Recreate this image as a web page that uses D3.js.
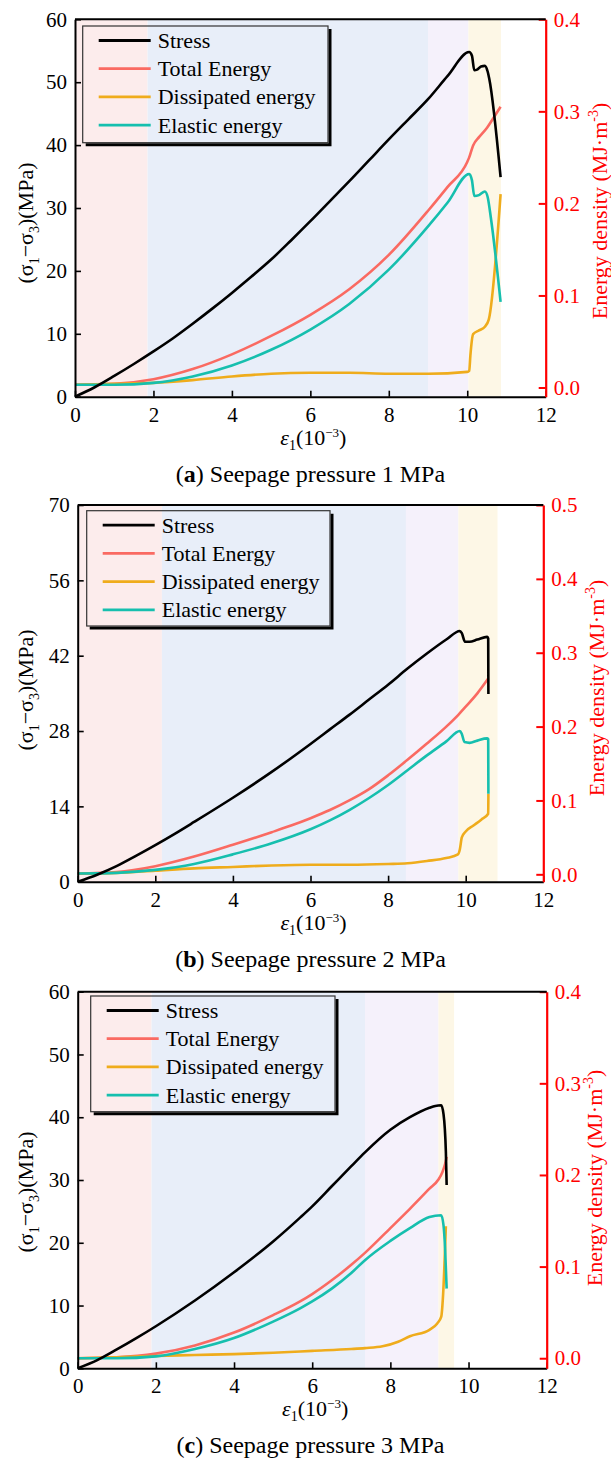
<!DOCTYPE html>
<html>
<head>
<meta charset="utf-8">
<script src="https://cdn.jsdelivr.net/npm/d3@7"></script>
<style>
  body { margin: 0; background: #fff; }
  svg text { font-family: "Liberation Serif", "Times New Roman", serif; }
</style>
</head>
<body>
<svg id="fig" width="611" height="1463"></svg>
<script>
// ---- shared axis ticks and series labels ----
const strainTicks = [0, 2, 4, 6, 8, 10, 12];
const stressTicks60 = [0, 10, 20, 30, 40, 50, 60];
const stressTicks70 = [0, 14, 28, 42, 56, 70];
const energyTicks04 = [0.0, 0.1, 0.2, 0.3, 0.4];
const energyTicks05 = [0.0, 0.1, 0.2, 0.3, 0.4, 0.5];
const seriesNames = ["Stress", "Total Energy", "Dissipated energy", "Elastic energy"];
const seriesColors = ["#000000", "#fa6a62", "#efac1c", "#16bfae"];
const stageColors = ["#fcecec", "#e8eef9", "#f5f1fb", "#fdf7e6"];

// ---- (a) seepage pressure 1 MPa: strain (10^-3), stress (MPa), energy (MJ/m^3) ----
const stagesA = [0, 1.85, 9.0, 10.03, 10.86];
const stressA = [[0,0],[0.5,1.5],[1,3.3],[1.5,5.2],[2,7.2],[2.5,9.3],[3,11.6],[3.5,14.0],[4,16.5],[4.5,19.1],[5,21.8],[5.5,24.8],[6,27.9],[6.5,31.1],[7,34.3],[7.5,37.6],[8,40.9],[8.5,44.1],[9,47.3],[9.5,51.0],[10.05,54.8],[10.12,54.2],[10.18,51.9],[10.25,52.0],[10.35,52.5],[10.45,52.6],[10.52,51.7],[10.56,50.6],[10.85,34.9]];
const totalA = [[0,0.003],[1,0.004],[2,0.009],[3,0.020],[4,0.036],[5,0.056],[6,0.079],[7,0.107],[8,0.144],[9,0.192],[9.5,0.218],[10.0,0.245],[10.05,0.250],[10.15,0.263],[10.3,0.272],[10.5,0.282],[10.7,0.295],[10.85,0.305]];
const dissipatedA = [[0,0.003],[1,0.004],[2,0.005],[3,0.008],[4,0.012],[5,0.015],[6,0.016],[7,0.016],[8,0.015],[9,0.015],[10.0,0.017],[10.05,0.018],[10.08,0.035],[10.15,0.058],[10.3,0.062],[10.45,0.066],[10.55,0.074],[10.85,0.210]];
const elasticA = [[0,0.003],[1,0.003],[2,0.005],[3,0.012],[4,0.024],[5,0.041],[6,0.063],[7,0.091],[8,0.128],[9,0.175],[9.5,0.201],[10.05,0.232],[10.12,0.225],[10.18,0.208],[10.3,0.209],[10.45,0.213],[10.52,0.207],[10.6,0.185],[10.85,0.093]];

// ---- (b) seepage pressure 2 MPa ----
const stagesB = [0, 2.17, 8.46, 9.81, 10.82];
const stressB = [[0,0],[0.5,1.3],[1,2.9],[1.5,4.8],[2,6.8],[2.5,8.9],[3,11.1],[4,15.6],[5,20.4],[6,25.6],[6.5,28.3],[7,31.0],[7.5,33.8],[8,36.6],[8.5,39.6],[9,42.4],[9.5,45.0],[9.85,46.6],[9.9,46.2],[9.98,44.6],[10.1,44.6],[10.3,45.0],[10.55,45.5],[10.58,45.2],[10.585,34.9]];
const totalB = [[0,0.001],[1,0.003],[2,0.011],[3,0.024],[4,0.040],[5,0.057],[5.5,0.066],[6,0.076],[6.5,0.087],[7,0.100],[7.5,0.115],[8,0.134],[8.5,0.155],[9,0.177],[9.5,0.200],[9.81,0.216],[10.0,0.227],[10.3,0.245],[10.58,0.265]];
const dissipatedB = [[0,0.001],[1,0.002],[2,0.005],[3,0.008],[4,0.010],[5,0.012],[6,0.013],[7,0.013],[8,0.014],[8.5,0.015],[9,0.018],[9.5,0.022],[9.8,0.027],[9.85,0.034],[9.9,0.050],[10.0,0.058],[10.2,0.066],[10.4,0.074],[10.58,0.082],[10.585,0.109]];
const elasticB = [[0,0.001],[1,0.002],[2,0.006],[3,0.014],[4,0.027],[5,0.042],[6,0.061],[6.5,0.073],[7,0.087],[7.5,0.103],[8,0.121],[8.5,0.141],[9,0.161],[9.5,0.180],[9.85,0.194],[9.9,0.190],[9.97,0.179],[10.1,0.178],[10.3,0.181],[10.55,0.184],[10.58,0.183],[10.585,0.109]];

// ---- (c) seepage pressure 3 MPa ----
const stagesC = [0, 1.89, 7.35, 9.23, 9.63];
const stressC = [[0,0],[0.5,1.3],[1,3.0],[1.5,4.8],[2,6.7],[3,10.8],[4,15.3],[5,20.2],[5.69,24.0],[6,25.8],[6.5,29.0],[7,32.2],[7.35,34.4],[8,38.0],[8.5,40.0],[9.0,41.5],[9.15,41.8],[9.3,41.9],[9.36,40.5],[9.42,34.5],[9.44,29.2]];
const totalC = [[0,0.000],[1,0.001],[2,0.005],[3,0.014],[4,0.028],[5,0.047],[5.69,0.062],[6,0.070],[6.5,0.085],[7,0.102],[7.35,0.115],[8,0.142],[8.5,0.163],[9,0.185],[9.23,0.195],[9.33,0.203],[9.4,0.212],[9.44,0.220]];
const dissipatedC = [[0,0.000],[1,0.001],[2,0.0025],[3,0.0035],[4,0.0045],[5,0.006],[6,0.008],[7,0.010],[7.35,0.011],[7.8,0.013],[8.2,0.018],[8.5,0.024],[9.0,0.031],[9.2,0.038],[9.3,0.045],[9.35,0.070],[9.4,0.120],[9.42,0.144]];
const elasticC = [[0,0.000],[1,0.000],[2,0.002],[3,0.010],[4,0.022],[5,0.040],[5.69,0.0545],[6,0.062],[6.5,0.076],[7,0.093],[7.35,0.107],[8,0.128],[8.5,0.142],[9.0,0.154],[9.3,0.156],[9.36,0.145],[9.4,0.120],[9.44,0.076]];

const panels = [
  { left: 75, right: 545.7, top: 19.3, bottom: 396.7,
    stressMax: 60, stressTicks: stressTicks60, energyDomain: [-0.01, 0.4], energyTicks: energyTicks04,
    stages: stagesA, series: [stressA, totalA, dissipatedA, elasticA],
    legend: { dx: 7.7, dy: 6.7, w: 245.3, h: 116.7 },
    yTitleCy: 223, eTitleX: 600, eTitleCy: 211,
    letter: "a", caption: " Seepage pressure 1 MPa" },
  { left: 77.7, right: 543.3, top: 505, bottom: 881.7,
    stressMax: 70, stressTicks: stressTicks70, energyDomain: [-0.01, 0.5], energyTicks: energyTicks05,
    stages: stagesB, series: [stressB, totalB, dissipatedB, elasticB],
    legend: { dx: 9, dy: 5.7, w: 243.3, h: 115.3 },
    yTitleCy: 690, eTitleX: 597, eTitleCy: 688,
    letter: "b", caption: " Seepage pressure 2 MPa" },
  { left: 77.7, right: 546.7, top: 991.7, bottom: 1368.3,
    stressMax: 60, stressTicks: stressTicks60, energyDomain: [-0.011, 0.4], energyTicks: energyTicks04,
    stages: stagesC, series: [stressC, totalC, dissipatedC, elasticC],
    legend: { dx: 13, dy: 4.3, w: 244.3, h: 115.7 },
    yTitleCy: 1192, eTitleX: 595, eTitleCy: 1178,
    letter: "c", caption: " Seepage pressure 3 MPa" }
];

const svg = d3.select("#fig");

function drawPanel(p) {
  const g = svg.append("g");
  const x = d3.scaleLinear().domain([0, 12]).range([p.left, p.right]);
  const yS = d3.scaleLinear().domain([0, p.stressMax]).range([p.bottom, p.top]);
  const yE = d3.scaleLinear().domain(p.energyDomain).range([p.bottom, p.top]);

  // deformation stage shading
  g.append("g").selectAll("rect")
    .data(d3.pairs(p.stages))
    .join("rect")
    .attr("x", d => x(d[0]))
    .attr("width", d => x(d[1]) - x(d[0]))
    .attr("y", p.top)
    .attr("height", p.bottom - p.top)
    .attr("fill", (d, i) => stageColors[i]);

  // curves: energies on the right scale, stress on the left
  const lineE = d3.line().x(d => x(d[0])).y(d => yE(d[1])).curve(d3.curveMonotoneX);
  const lineS = d3.line().x(d => x(d[0])).y(d => yS(d[1])).curve(d3.curveMonotoneX);
  [1, 2, 3].forEach(i => {
    g.append("path").attr("d", lineE(p.series[i]))
      .attr("fill", "none").attr("stroke", seriesColors[i])
      .attr("stroke-width", 2.6).attr("stroke-linejoin", "round");
  });
  g.append("path").attr("d", lineS(p.series[0]))
    .attr("fill", "none").attr("stroke", seriesColors[0])
    .attr("stroke-width", 2.6).attr("stroke-linejoin", "round");

  // axes
  const axB = g.append("g").attr("transform", `translate(0,${p.bottom})`)
    .call(d3.axisBottom(x).tickValues(strainTicks).tickSize(-6).tickSizeOuter(0).tickPadding(10));
  const axL = g.append("g").attr("transform", `translate(${p.left},0)`)
    .call(d3.axisLeft(yS).tickValues(p.stressTicks).tickSize(-6).tickSizeOuter(0).tickPadding(8));
  const axR = g.append("g").attr("transform", `translate(${p.right},0)`)
    .call(d3.axisRight(yE).tickValues(p.energyTicks).tickFormat(d3.format(".1f"))
      .tickSize(-7).tickSizeOuter(0).tickPadding(8));
  g.append("line").attr("x1", p.left).attr("x2", p.right).attr("y1", p.top).attr("y2", p.top)
    .attr("stroke", "#000").attr("stroke-width", 2);

  [axB, axL].forEach(a => {
    a.select(".domain").attr("stroke", "#000").attr("stroke-width", 2);
    a.selectAll(".tick line").attr("stroke", "#000").attr("stroke-width", 1.6);
    a.selectAll(".tick text").attr("fill", "#000").attr("font-size", 21)
      .attr("font-family", "Liberation Serif, serif");
  });
  axR.select(".domain").attr("stroke", "#f00").attr("stroke-width", 2.2);
  axR.selectAll(".tick line").attr("stroke", "#f00").attr("stroke-width", 2);
  axR.selectAll(".tick text").attr("fill", "#f00").attr("font-size", 21)
    .attr("font-family", "Liberation Serif, serif");

  // axis titles
  const yT = g.append("text").attr("font-size", 22).attr("fill", "#000")
    .attr("text-anchor", "middle")
    .attr("transform", `translate(33,${p.yTitleCy}) rotate(-90)`);
  yT.append("tspan").text("(σ");
  yT.append("tspan").attr("dy", 6).attr("font-size", 14).text("1");
  yT.append("tspan").attr("dy", -6).text("−σ");
  yT.append("tspan").attr("dy", 6).attr("font-size", 14).text("3");
  yT.append("tspan").attr("dy", -6).text(")(MPa)");

  const eT = g.append("text").attr("font-size", 22).attr("fill", "#f00")
    .attr("text-anchor", "middle")
    .attr("transform", `translate(${p.eTitleX + 7},${p.eTitleCy}) rotate(-90)`);
  eT.append("tspan").text("Energy density (MJ·m");
  eT.append("tspan").attr("dy", -9).attr("font-size", 14).text("-3");
  eT.append("tspan").attr("dy", 9).text(")");

  const xT = g.append("text").attr("font-size", 22).attr("fill", "#000")
    .attr("text-anchor", "middle")
    .attr("x", (p.left + p.right) / 2 + 3).attr("y", p.bottom + 48);
  xT.append("tspan").attr("font-style", "italic").text("ε");
  xT.append("tspan").attr("dy", 5).attr("font-size", 14).text("1");
  xT.append("tspan").attr("dy", -5).text("(10");
  xT.append("tspan").attr("dy", -8).attr("font-size", 13).text("−3");
  xT.append("tspan").attr("dy", 8).text(")");

  // legend
  const lx = p.left + p.legend.dx, ly = p.top + p.legend.dy;
  const lg = g.append("g").attr("transform", `translate(${lx},${ly})`);
  lg.append("path")
    .attr("d", `M3,${p.legend.h + 2}H${p.legend.w + 2}V3`)
    .attr("fill", "none").attr("stroke", "#000").attr("stroke-width", 3);
  lg.append("rect").attr("width", p.legend.w).attr("height", p.legend.h)
    .attr("fill", "none").attr("stroke", "#333").attr("stroke-width", 1.2);
  const rows = lg.selectAll("g.row").data(seriesNames).join("g")
    .attr("class", "row")
    .attr("transform", (d, i) => `translate(0,${14.5 + i * 28.2})`);
  rows.append("line").attr("x1", 16).attr("x2", 68).attr("y1", 0).attr("y2", 0)
    .attr("stroke", (d, i) => seriesColors[i]).attr("stroke-width", 2.8);
  rows.append("text").attr("x", 75).attr("y", 7.5).attr("font-size", 22)
    .attr("fill", "#000").text(d => d);

  // caption
  const cap = g.append("text").attr("font-size", 24).attr("fill", "#000")
    .attr("text-anchor", "middle")
    .attr("x", 310.5).attr("y", p.bottom + 85);
  cap.append("tspan").text("(");
  cap.append("tspan").attr("font-weight", "bold").text(p.letter);
  cap.append("tspan").text(")" + p.caption);
}

panels.forEach(drawPanel);
</script>
</body>
</html>
